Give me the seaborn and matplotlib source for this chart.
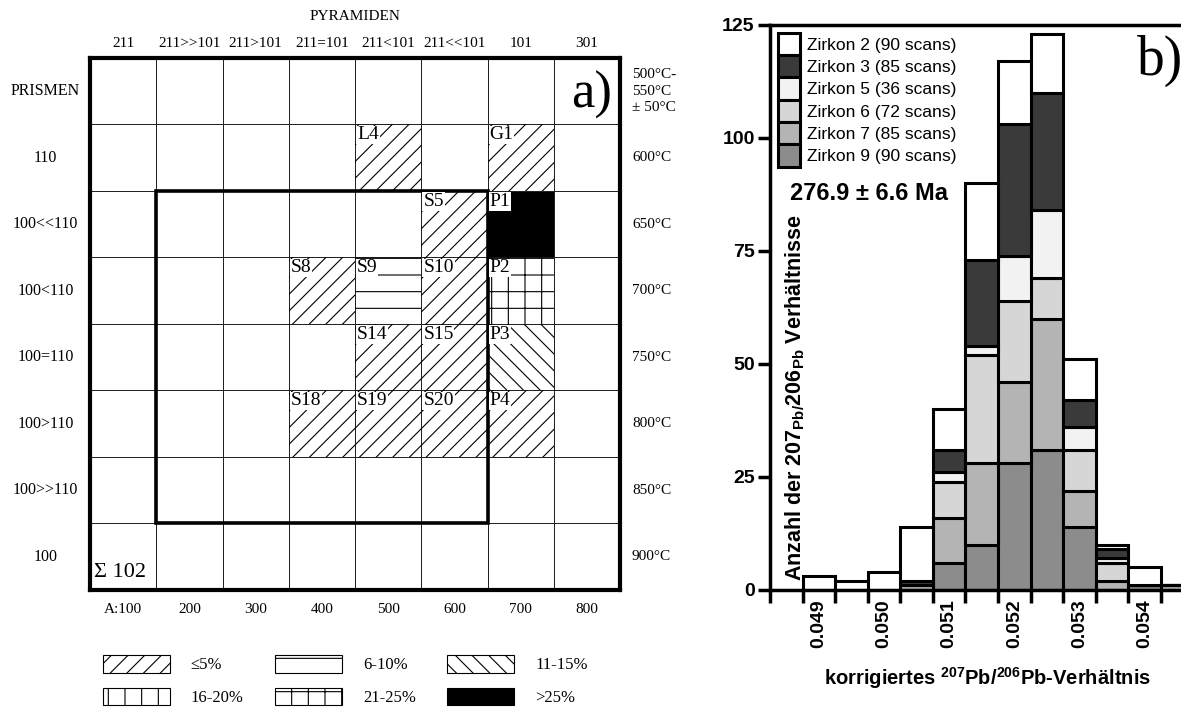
import numpy as np
import pandas as pd
import seaborn as sns
import matplotlib.pyplot as plt
from matplotlib.colors import ListedColormap
from matplotlib.patches import Rectangle, Patch

# a) Zonierungsschema (Pyramiden x Prismen)
pyramiden = ['211', '211>>101', '211>101', '211=101', '211<101', '211<<101', '101', '301']
prismen = ['PRISMEN', '110', '100<<110', '100<110', '100=110', '100>110', '100>>110', '100']
temperaturen = ['500°C-\n550°C\n± 50°C', '600°C', '650°C', '700°C', '750°C', '800°C', '850°C', '900°C']
a_werte = ['A:100', '200', '300', '400', '500', '600', '700', '800']

zell_namen = ['L4', 'G1', 'S5', 'P1', 'S8', 'S9', 'S10', 'P2', 'S14', 'S15', 'P3', 'S18', 'S19', 'S20', 'P4']
zell_pyr = ['211<101', '101', '211<<101', '101', '211=101', '211<101', '211<<101', '101',
            '211<101', '211<<101', '101', '211=101', '211<101', '211<<101', '101']
zell_pri = ['110', '110', '100<<110', '100<<110', '100<110', '100<110', '100<110', '100<110',
            '100=110', '100=110', '100=110', '100>110', '100>110', '100>110', '100>110']
zell_klasse = ['≤5%', '≤5%', '≤5%', '>25%', '≤5%', '6-10%', '≤5%', '21-25%',
               '≤5%', '≤5%', '11-15%', '≤5%', '≤5%', '≤5%', '≤5%']
klassen = ['≤5%', '6-10%', '11-15%', '16-20%', '21-25%', '>25%']
box_pyr = ['211>>101', '211<<101']
box_pri = ['100<<110', '100>>110']

# b) Histogramm 207Pb/206Pb
bin_mitte = [0.0490, 0.0495, 0.0500, 0.0505, 0.0510, 0.0515, 0.0520, 0.0525, 0.0530, 0.0535, 0.0540, 0.0545]
zirkon_namen = ['Zirkon 2 (90 scans)', 'Zirkon 3 (85 scans)', 'Zirkon 5 (36 scans)',
                'Zirkon 6 (72 scans)', 'Zirkon 7 (85 scans)', 'Zirkon 9 (90 scans)']
zirkon2 = [3, 2, 4, 12, 9, 17, 14, 13, 9, 1, 4, 0]
zirkon3 = [0, 0, 0, 1, 5, 19, 29, 26, 6, 2, 0, 0]
zirkon5 = [0, 0, 0, 0, 2, 2, 10, 15, 5, 1, 0, 0]
zirkon6 = [0, 0, 0, 0, 8, 24, 18, 9, 9, 4, 0, 0]
zirkon7 = [0, 0, 0, 1, 10, 18, 18, 29, 8, 2, 0, 1]
zirkon9 = [0, 0, 0, 0, 6, 10, 28, 31, 14, 0, 1, 0]
x_labels = ['0.049', '0.050', '0.051', '0.052', '0.053', '0.054']
y_ticks = [0, 25, 50, 75, 100, 125]

sns.set_style('ticks')
plt.rcParams['font.family'] = ['Liberation Serif', 'DejaVu Serif']
plt.rcParams['text.color'] = 'black'
plt.rcParams['axes.labelcolor'] = 'black'
plt.rcParams['axes.edgecolor'] = 'black'
plt.rcParams['xtick.color'] = 'black'
plt.rcParams['ytick.color'] = 'black'
plt.rcParams['hatch.linewidth'] = 0.8
plt.rcParams['mathtext.fontset'] = 'custom'
plt.rcParams['mathtext.rm'] = 'Liberation Sans:bold'
plt.rcParams['mathtext.it'] = 'Liberation Sans:bold'
plt.rcParams['mathtext.bf'] = 'Liberation Sans:bold'

hatch_stil = {'≤5%': '//', '6-10%': '-', '11-15%': '\\\\', '16-20%': '|', '21-25%': '+', '>25%': ''}

fig = plt.figure(figsize=(11.81, 7.16), dpi=100)

# ---------- a) ----------
ax = fig.add_axes([0.0762, 0.176, 0.4488, 0.743])
schwarz = pd.DataFrame(0, index=prismen, columns=pyramiden)
for p, q, k in zip(zell_pyr, zell_pri, zell_klasse):
    schwarz.loc[q, p] = int(k == '>25%')
sns.heatmap(schwarz, cmap=ListedColormap(['white', 'black']), vmin=0, vmax=1, cbar=False,
            linewidths=0.6, linecolor='#222222', ax=ax)

for name, p, q, k in zip(zell_namen, zell_pyr, zell_pri, zell_klasse):
    c, r = pyramiden.index(p), prismen.index(q)
    if hatch_stil[k]:
        ax.add_patch(Rectangle((c, r), 1, 1, fill=False, hatch=hatch_stil[k], lw=0, edgecolor='black'))
    ax.text(c + 0.03, r + 0.03, name, ha='left', va='top', fontsize=14, zorder=6,
            bbox=dict(facecolor='white', edgecolor='none', pad=0.5))

c0, c1 = pyramiden.index(box_pyr[0]), pyramiden.index(box_pyr[1]) + 1
r0, r1 = prismen.index(box_pri[0]), prismen.index(box_pri[1]) + 1
ax.add_patch(Rectangle((c0, r0), c1 - c0, r1 - r0, fill=False, lw=2.6, edgecolor='black', zorder=5))

for s in ax.spines.values():
    s.set_visible(True)
    s.set_linewidth(3)
ax.xaxis.tick_top()
ax.set_xticklabels(pyramiden, rotation=0, fontsize=11)
ax.set_yticklabels(prismen, rotation=0, fontsize=11.5, ha='center')
ax.tick_params(axis='x', length=0, pad=6)
ax.tick_params(axis='y', length=0, pad=32)
ax.set_xlabel('')
ax.set_ylabel('')

for i, t in enumerate(temperaturen):
    ax.text(8.18, i + 0.5, t, ha='left', va='center', fontsize=11, linespacing=1.35, clip_on=False)
for i, a in enumerate(a_werte):
    ax.text(i + 0.5, 8.3, a, ha='center', va='center', fontsize=11, clip_on=False)
ax.text(4, -0.63, 'PYRAMIDEN', ha='center', va='center', fontsize=11, clip_on=False)
ax.text(7.88, 0.55, 'a)', ha='right', va='center', fontsize=38)
ax.text(0.06, 7.74, 'Σ 102', ha='left', va='center', fontsize=16)

reihenfolge = [0, 3, 1, 4, 2, 5]
handles = [Patch(facecolor='black' if klassen[i] == '>25%' else 'white', edgecolor='black',
                 hatch=hatch_stil[klassen[i]], lw=0.8, label=klassen[i]) for i in reihenfolge]
fig.legend(handles=handles, loc='upper left', bbox_to_anchor=(103 / 1181, 1 - 655 / 716), ncol=3,
           frameon=False, fontsize=12, handlelength=4.0, handleheight=1.25, handletextpad=1.26,
           labelspacing=0.85, columnspacing=1.9, borderpad=0, borderaxespad=0)

# ---------- b) ----------
ax2 = fig.add_axes([0.652, 0.176, 0.368, 0.7891])
df = pd.DataFrame({
    'ratio': np.tile(bin_mitte, len(zirkon_namen)),
    'zirkon': np.repeat(zirkon_namen, len(bin_mitte)),
    'anzahl': np.concatenate([zirkon2, zirkon3, zirkon5, zirkon6, zirkon7, zirkon9]),
})
halb = (bin_mitte[1] - bin_mitte[0]) / 2
kanten = [m - halb for m in bin_mitte] + [bin_mitte[-1] + halb]
farben = dict(zip(zirkon_namen, ['white', '#3a3a3a', '#f2f2f2', '#d6d6d6', '#b4b4b4', '#8c8c8c']))
sns.histplot(data=df, x='ratio', weights='anzahl', hue='zirkon', hue_order=zirkon_namen,
             multiple='stack', bins=kanten, palette=farben, alpha=1, edgecolor='black',
             linewidth=2.2, ax=ax2)

ax2.set_xlim(kanten[0] - 2 * halb, 0.05492)
ax2.set_ylim(0, 125)
ax2.set_xticks([kanten[0] - 2 * halb] + kanten)
ax2.set_xticklabels([])
ax2.set_xticks([float(v) for v in x_labels], labels=x_labels, minor=True)
ax2.set_yticks(y_ticks)
ax2.tick_params(axis='x', which='major', length=9, width=2.5, direction='out')
ax2.tick_params(axis='x', which='minor', length=0, pad=7, labelrotation=90, labelsize=14)
ax2.tick_params(axis='y', length=9, width=2.5, direction='out', labelsize=14, pad=2)
for lab in ax2.get_xticklabels(minor=True) + ax2.get_yticklabels():
    lab.set_fontfamily('Liberation Sans')
    lab.set_fontweight('bold')
ax2.spines['right'].set_visible(False)
for s in ['left', 'bottom', 'top']:
    ax2.spines[s].set_linewidth(2.5)
ax2.set_ylabel('')
ax2.set_xlabel('korrigiertes $^{207}$Pb/$^{206}$Pb-Verhältnis', fontsize=14.5, fontweight='bold',
               fontfamily='Liberation Sans', labelpad=12)

sns.move_legend(ax2, 'upper left', bbox_to_anchor=(0, 1), title=None, frameon=False,
                prop={'family': 'Liberation Sans', 'size': 12.5}, handlelength=1.3,
                handleheight=1.6, labelspacing=0, handletextpad=0.4, borderpad=0,
                borderaxespad=0.45)

ax2.text(0.04863, 2, 'Anzahl der 207$_{\\mathrm{Pb/}}$206$_{\\mathrm{Pb}}$ Verhältnisse', rotation=90,
         ha='center', va='bottom', fontsize=15.5, fontweight='bold', fontfamily='Liberation Sans')
ax2.text(0.04856, 87.8, '276.9 ± 6.6 Ma', ha='left', va='center', fontsize=17,
         fontweight='bold', fontfamily='Liberation Sans')
ax2.text(0.05388, 117, 'b)', ha='left', va='center', fontsize=40, clip_on=False)

fig.savefig('out.png', dpi=100)
